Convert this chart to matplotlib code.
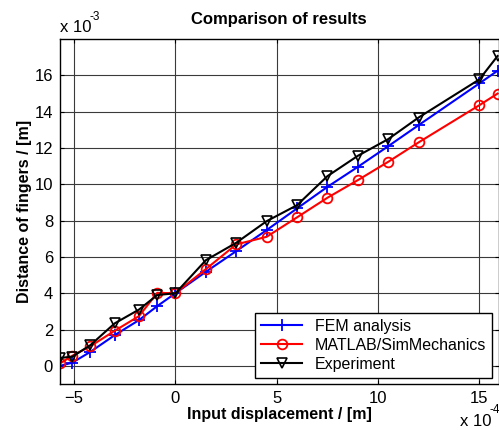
import matplotlib
matplotlib.use("Agg")
import matplotlib.pyplot as plt

plt.rcParams["font.family"] = ["Liberation Sans", "DejaVu Sans"]

# input displacement (x 1e-4 m)
x_disp = [-5.7, -5.1, -4.2, -3.0, -1.8, -0.9, 0.0, 1.5, 3.0, 4.5, 6.0,
          7.5, 9.0, 10.5, 12.0, 15.0, 15.9]

# distance of fingers (x 1e-3 m)
fem = [0.0, 0.17, 0.77, 1.69, 2.52, 3.29, 4.0, 5.18, 6.32, 7.48, 8.67,
       9.86, 10.96, 12.1, 13.26, 15.56, 16.26]
matlab = [0.13, 0.55, 1.08, 1.93, 2.74, 4.02, 4.0, 5.33, 6.69, 7.11, 8.18,
          9.26, 10.23, 11.24, 12.31, 14.36, 15.0]
experiment = [0.44, 0.5, 1.14, 2.34, 3.1, 3.9, 4.0, 5.82, 6.78, 7.97, 8.85,
              10.45, 11.57, 12.49, 13.68, 15.78, 17.07]

x_ticks = [-5, 0, 5, 10, 15]
y_ticks = [0, 2, 4, 6, 8, 10, 12, 14, 16]

fig = plt.figure(figsize=(4.99, 4.30), dpi=100, facecolor="white")
ax = fig.add_axes([0.1202, 0.107, 0.879, 0.802])

ax.plot(x_disp, fem, color="blue", lw=1.5, marker="+", ms=8, mew=1.3,
        label="FEM analysis")
ax.plot(x_disp, matlab, color="red", lw=1.5, marker="o", ms=7, mew=1.3,
        mfc="none", label="MATLAB/SimMechanics")
ax.plot(x_disp, experiment, color="black", lw=1.5, marker="v", ms=7.5, mew=1.2,
        mfc="none", label="Experiment")

ax.set_xlim(-5.7, 15.95)
ax.set_ylim(-1, 18)
ax.set_xticks(x_ticks)
ax.set_yticks(y_ticks)
ax.grid(True, color="#3a3a3a", lw=0.8)
ax.set_axisbelow(True)
ax.tick_params(direction="in", top=True, right=True, labelsize=12, length=3,
               pad=5)
for sp in ax.spines.values():
    sp.set_linewidth(1.0)

ax.set_title("Comparison of results", fontsize=12, fontweight="bold", pad=11)
ax.set_xlabel("Input displacement / [m]", fontsize=11.5, fontweight="bold",
              labelpad=1)
ax.set_ylabel("Distance of fingers / [m]", fontsize=11.5, fontweight="bold",
              labelpad=2)

# MATLAB-style exponent labels
fig.text(60 / 499, 1 - 28 / 430, "x 10", fontsize=12, va="center", ha="left")
fig.text(89 / 499, 1 - 17 / 430, "-3", fontsize=8.5, va="center", ha="left")
fig.text(460 / 499, 1 - 421 / 430, "x 10", fontsize=12, va="center", ha="left")
fig.text(489 / 499, 1 - 410 / 430, "-4", fontsize=8.5, va="center", ha="left")

leg = ax.legend(loc="lower right", fontsize=11.5, fancybox=False,
                edgecolor="black", framealpha=1, borderaxespad=0.4,
                handlelength=2.6, labelspacing=0.25, borderpad=0.35)
leg.get_frame().set_linewidth(1.0)

fig.savefig("out.png", dpi=100, facecolor="white")
